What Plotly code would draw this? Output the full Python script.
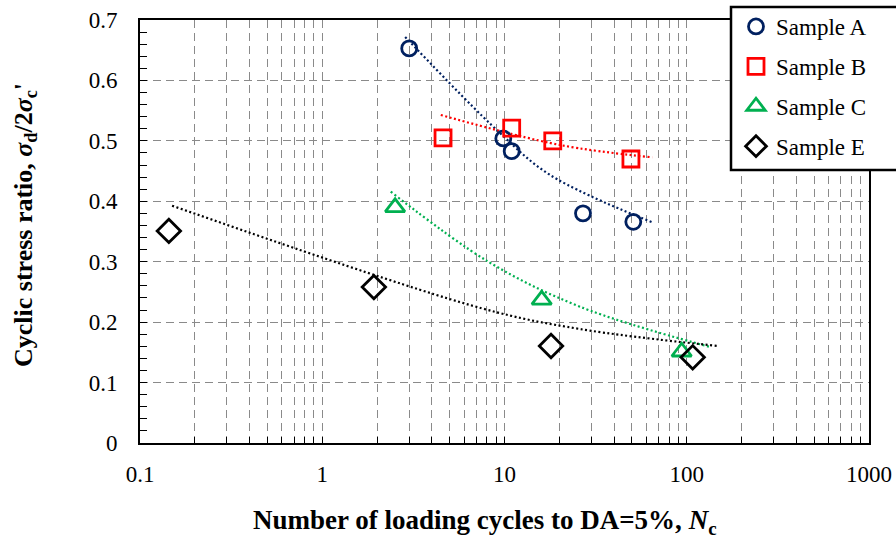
import plotly.graph_objects as go

# ---- data ----
A_x = [3.0, 9.85, 10.95, 26.96, 50.9]
A_y = [0.653, 0.504, 0.483, 0.380, 0.366]
B_x = [4.6, 10.95, 18.4, 49.4]
B_y = [0.505, 0.521, 0.500, 0.470]
C_x = [2.51, 16.0, 93.8]
C_y = [0.390, 0.237, 0.151]
E_x = [0.144, 1.92, 18.0, 107.8]
E_y = [0.351, 0.258, 0.1605, 0.1418]

# trend lines
A_tx = [2.85, 9.29, 17.8, 65.6]
A_ty = [0.672, 0.515, 0.4435, 0.3645]
B_tx = [4.47, 20.2, 64.7]
B_ty = [0.5428, 0.4931, 0.4728]
C_tx = [2.375, 8.15, 25.9, 134.0]
C_ty = [0.4159, 0.300, 0.2256, 0.159]
E_tx = [0.15, 7.5, 25.9, 149.0]
E_ty = [0.3927, 0.2229, 0.1886, 0.1605]

x_tickvals = [0.1, 1, 10, 100, 1000]
x_ticktext = ["0.1", "1", "10", "100", "1000"]
x_minor = [m * d for d in (0.1, 1, 10, 100) for m in range(2, 10)]
y_tickvals = [0, 0.1, 0.2, 0.3, 0.4, 0.5, 0.6, 0.7]
y_ticktext = ["0", "0.1", "0.2", "0.3", "0.4", "0.5", "0.6", "0.7"]
y_minor = [round(0.02 * k, 2) for k in range(36)]

x_title = "<b>Number of loading cycles to DA=5%, <i>N</i><sub>c</sub></b>"
y_title = "<b>Cyclic stress ratio, <i>σ</i><sub>d</sub>/2<i>σ</i><sub>c</sub>'</b>"

names = ["Sample A", "Sample B", "Sample C", "Sample E"]
colors = ["#002060", "#FF0000", "#00B050", "#000000"]
symbols = ["circle-open", "square-open", "triangle-up-open", "diamond-open"]
sizes = [15, 16, 17, 18]

FONT = "Liberation Serif"

# layout geometry in pixels
W, H = 896, 539
L, R, T, B = 140, 27, 20, 96
PW, PH = W - L - R, H - T - B


def px_x(p):
    return (p - L) / PW


def px_y(p):
    return (H - B - p) / PH


fig = go.Figure()

pts = [(A_x, A_y), (B_x, B_y), (C_x, C_y), (E_x, E_y)]
trends = [(A_tx, A_ty), (B_tx, B_ty), (C_tx, C_ty), (E_tx, E_ty)]

for (tx, ty), c in zip(trends, colors):
    fig.add_trace(go.Scatter(
        x=tx, y=ty, mode="lines", showlegend=False, hoverinfo="skip",
        line=dict(color=c, width=2.2, dash="2px,2.5px", shape="spline", smoothing=1.0),
    ))

for (px, py), n, c, s, sz in zip(pts, names, colors, symbols, sizes):
    fig.add_trace(go.Scatter(
        x=px, y=py, mode="markers", name=n, legendgroup=n,
        marker=dict(symbol=s, size=sz, color=c, line=dict(color=c, width=2.8)),
    ))

grid_color = "#8a8a8a"

fig.update_xaxes(
    type="log", range=[-1, 3],
    tickvals=x_tickvals, ticktext=x_ticktext,
    ticks="inside", ticklen=6, tickcolor="black", tickwidth=1,
    showline=True, linecolor="black", linewidth=2, mirror=True,
    showgrid=True, gridcolor=grid_color, gridwidth=1, griddash="8px,5px",
    minor=dict(tickvals=x_minor, ticks="inside", ticklen=6, tickcolor="black",
               showgrid=True, gridcolor=grid_color, gridwidth=1, griddash="8px,5px"),
    tickfont=dict(family=FONT, size=23, color="black"),
    ticklabelstandoff=9,
    zeroline=False,
    automargin=False,
)

fig.update_yaxes(
    range=[0, 0.7], tickvals=y_tickvals, ticktext=y_ticktext,
    ticks="inside", ticklen=7, tickcolor="black", tickwidth=1,
    showline=True, linecolor="black", linewidth=2, mirror=True,
    showgrid=True, gridcolor=grid_color, gridwidth=1, griddash="8px,5px",
    minor=dict(tickvals=y_minor, ticks="inside", ticklen=7, tickcolor="black", showgrid=False),
    tickfont=dict(family=FONT, size=23, color="black"),
    ticklabelstandoff=16,
    zeroline=False,
    automargin=False,
)

fig.add_annotation(
    text=x_title, xref="paper", yref="paper",
    x=px_x(485), y=px_y(522), xanchor="center", yanchor="middle",
    showarrow=False, font=dict(family=FONT, size=27, color="black"),
)
fig.add_annotation(
    text=y_title, xref="paper", yref="paper", textangle=-90,
    x=px_x(25), y=px_y(225), xanchor="center", yanchor="middle",
    showarrow=False, font=dict(family=FONT, size=26, color="black"),
)

# legend box (white fill, black frame) drawn beneath the legend entries
fig.add_shape(
    type="rect", xref="paper", yref="paper", layer="above",
    x0=px_x(731), x1=px_x(905), y0=px_y(170), y1=px_y(7),
    fillcolor="white", line=dict(color="black", width=2.5),
)

fig.update_layout(
    width=W, height=H,
    margin=dict(l=L, r=R, t=T, b=B, autoexpand=False),
    paper_bgcolor="white", plot_bgcolor="white",
    font=dict(family=FONT, size=23, color="black"),
    legend=dict(
        x=px_x(736), y=px_y(5), xanchor="left", yanchor="top",
        bgcolor="rgba(0,0,0,0)", borderwidth=0,
        font=dict(family=FONT, size=23, color="black"),
        traceorder="grouped", tracegroupgap=7,
        itemsizing="trace",
    ),
)

fig.write_html("out.html")
